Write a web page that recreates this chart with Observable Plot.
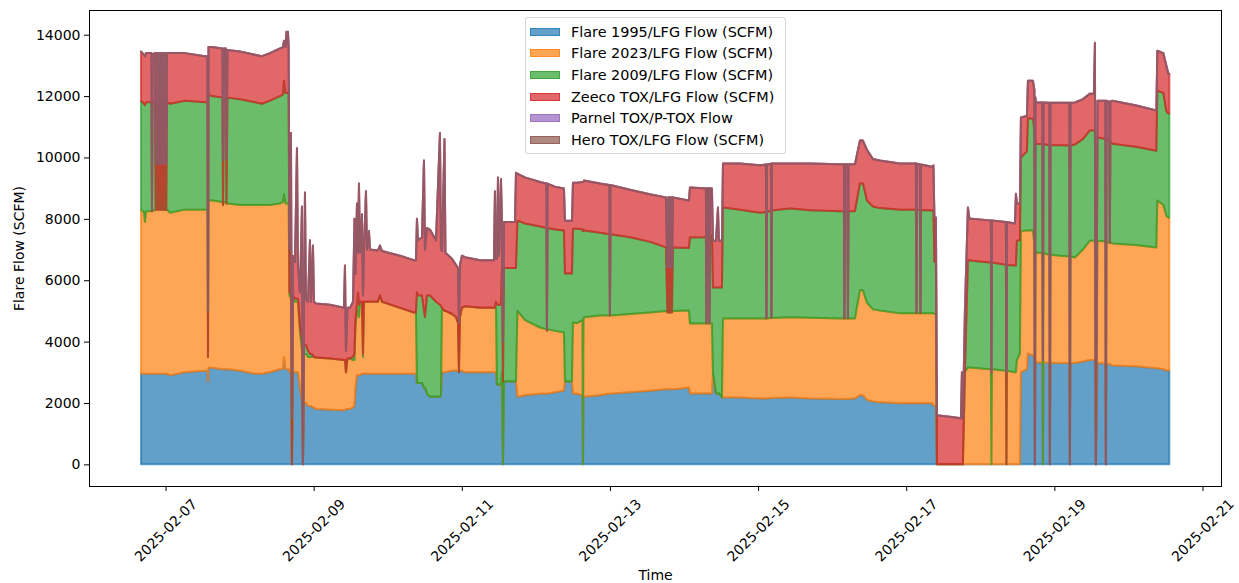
<!DOCTYPE html>
<html>
<head>
<meta charset="utf-8">
<script src="https://cdn.jsdelivr.net/npm/d3@7"></script>
<script src="https://cdn.jsdelivr.net/npm/@observablehq/plot@0.6"></script>
<style>
  html, body { margin: 0; padding: 0; background: #fff; }
  #wrap { position: relative; width: 1239px; height: 583px; overflow: hidden; font-family: "DejaVu Sans", sans-serif; }
  #legend { position: absolute; left: 525px; top: 17px; width: 261px; height: 137px; box-sizing: border-box;
            border: 1px solid rgba(204,204,204,0.8); border-radius: 3px; background: rgba(255,255,255,0.8); }
  .lg-patch { position: absolute; left: 4px; width: 30px; height: 8px; box-sizing: border-box; }
  .lg-text { position: absolute; left: 45px; font-size: 14.4px; line-height: 16px; color: #000; white-space: nowrap; }
</style>
</head>
<body>
<div id="wrap"><div id="legend"></div></div>
<script>
// ---- data (hours since 2025-02-06 00:00 UTC) ----
const seriesNames = [
  "Flare 1995/LFG Flow (SCFM)",
  "Flare 2023/LFG Flow (SCFM)",
  "Flare 2009/LFG Flow (SCFM)",
  "Zeeco TOX/LFG Flow (SCFM)",
  "Parnel TOX/P-TOX Flow",
  "Hero TOX/LFG Flow (SCFM)"
];
const seriesColors = ["#1f77b4", "#ff7f0e", "#2ca02c", "#d62728", "#9467bd", "#8c564b"];

const hours = [
  16.05, 17.02, 17.34, 17.67, 19.45, 19.61, 19.77, 20.58, 20.83, 21.07,
  21.31, 21.56, 21.80, 22.04, 22.28, 22.53, 22.77, 23.01, 23.26, 23.50,
  23.74, 23.99, 24.23, 24.47, 25.44, 30.30, 36.78, 37.59, 37.76, 37.92,
  39.05, 42.45, 42.62, 42.94, 43.59, 43.75, 44.07, 48.12, 52.98, 55.25,
  57.84, 61.08, 62.05, 62.38, 62.87, 63.19, 63.51, 63.67, 63.90, 64.16,
  64.64, 64.97, 65.29, 65.94, 66.59, 66.91, 67.56, 68.21, 68.53, 68.86,
  69.18, 69.50, 70.15, 70.80, 71.12, 71.77, 72.10, 72.74, 77.28, 81.82,
  82.14, 82.46, 82.95, 83.76, 84.74, 85.22, 85.55, 86.03, 86.36, 86.68,
  87.00, 87.65, 87.98, 88.30, 88.95, 89.27, 89.92, 90.24, 92.83, 93.48,
  94.13, 99.96, 104.50, 105.14, 105.47, 105.79, 107.09, 107.74, 108.06, 108.71,
  109.68, 111.63, 112.92, 113.25, 113.57, 114.38, 114.70, 116.81, 118.11, 118.76,
  119.08, 119.40, 120.05, 121.02, 125.88, 130.42, 130.74, 131.07, 131.39, 131.72,
  132.04, 132.69, 133.01, 133.34, 133.66, 137.22, 137.55, 138.03, 140.46, 145.32,
  147.43, 147.59, 147.75, 150.18, 153.10, 153.42, 155.69, 156.02, 157.31, 159.10,
  159.26, 159.42, 159.58, 164.77, 167.84, 168.00, 168.16, 174.48, 180.96, 186.14,
  186.63, 186.87, 187.12, 187.36, 187.60, 187.85, 188.09, 188.41, 193.60, 193.92,
  198.46, 199.10, 199.27, 199.43, 200.08, 200.24, 200.40, 201.05, 201.38, 202.35,
  203.00, 203.32, 204.29, 204.62, 210.13, 216.61, 218.55, 218.71, 218.88, 220.17,
  220.33, 220.50, 226.30, 232.78, 242.50, 243.82, 243.98, 244.14, 244.95, 245.12,
  245.28, 247.38, 249.00, 249.98, 251.27, 253.22, 255.49, 261.97, 267.15, 267.31,
  267.48, 268.44, 268.61, 268.77, 272.33, 272.82, 273.14, 273.63, 273.95, 278.16,
  281.72, 282.05, 282.37, 283.02, 283.99, 284.48, 291.12, 291.44, 291.61, 291.77,
  296.31, 296.47, 296.63, 299.22, 299.55, 299.87, 300.84, 301.17, 303.11, 303.44,
  305.06, 305.54, 305.71, 305.87, 306.03, 308.13, 308.30, 308.46, 310.41, 310.57,
  310.73, 313.81, 316.89, 317.05, 317.21, 318.67, 321.26, 323.53, 324.82, 325.15,
  325.47, 325.96, 328.55, 328.71, 328.87, 329.82, 329.99, 330.15, 330.79, 338.25,
  345.05, 345.37, 347.32, 348.29, 348.94, 349.26
];

const flare1995 = [
  2950,2950,2950,2950,2950,2950,2950,2950,2950,2950,
  2950,2950,2950,2950,2950,2950,2950,2950,2950,2950,
  2950,2950,2950,2950,2900,3000,3050,3050,2700,3150,
  3150,3100,3100,3100,3100,3100,3100,3050,2950,2950,
  3000,3100,3100,3500,3100,3100,3100,3100,3100,3000,
  3000,0,3000,3000,3000,3000,2500,2000,0,2000,
  2000,2000,1900,1900,1900,1850,1850,1800,1780,1760,
  1760,1800,1800,1800,1850,1900,2500,2900,2900,2900,
  2900,2950,2950,2950,2950,2950,2950,2950,2950,2950,
  2950,2950,2950,2950,2650,2650,2650,2500,2500,2300,
  2200,2200,2200,2250,3000,3000,3000,3050,3050,3050,
  3000,3050,3050,3000,3000,3000,3000,3000,2600,2600,
  2600,2600,2400,0,2700,2700,2700,2200,2250,2300,
  2300,2300,2300,2350,2400,2700,2700,2300,2300,2250,
  0,2250,2200,2250,2300,2300,2300,2350,2400,2450,
  2450,2450,2450,2450,2450,2450,2450,2450,2500,2310,
  2310,2310,2310,2310,2310,2310,2310,2310,2960,2310,
  2310,2310,2180,2180,2180,2150,2150,2150,2150,2160,
  2160,2160,2180,2150,2130,2130,2130,2130,2130,2130,
  2130,2150,2250,2250,2100,2050,2020,1990,1990,1990,
  1990,1990,1990,1990,1990,1920,1900,1900,0,0,
  0,0,0,0,0,0,0,0,0,0,
  0,0,0,0,0,0,0,3000,3100,3610,
  3550,3450,0,3400,3320,3320,0,3320,3310,0,
  3310,3300,3300,0,3300,3300,3350,3400,3400,3400,
  0,3300,3280,0,3280,3260,3260,3260,3220,3200,
  3130,3130,3100,3060,3060,3060
];

const flare2023 = [
  5350,5250,4950,5300,5300,5300,5300,5350,5350,5350,
  5350,5350,5350,5350,5350,5350,5350,5350,5350,5350,
  5350,5350,5350,5350,5300,5300,5250,5250,800,5450,
  5450,5450,5350,5450,5450,5400,5400,5400,5500,5500,
  5450,5400,5450,5300,5400,5400,5400,5400,5400,2500,
  2400,0,2400,2300,2300,2300,1800,1700,0,1600,
  1600,1600,1600,1600,1600,1650,1650,1680,1670,1640,
  1640,1200,1650,1650,1550,1500,2000,2100,2100,1900,
  2300,2350,550,2350,2350,2350,2350,2350,2350,2550,
  2350,2150,2000,2000,0,0,0,0,0,0,
  0,0,0,0,2100,2000,2000,1850,1750,1550,
  0,1750,2050,2150,2100,2100,2100,2100,0,0,
  0,0,600,0,0,0,0,2800,2450,2160,
  2100,2050,2100,2000,1900,0,0,2320,2300,2450,
  0,2450,2590,2600,2550,2550,2550,2550,2550,2550,
  2500,2550,2500,2550,2500,2550,2500,2550,2510,2280,
  2280,2280,2280,2280,2280,2280,2280,2280,0,0,
  0,0,0,2570,2580,2600,2600,2600,2600,2610,
  2610,2610,2610,2630,2620,2620,2620,2620,2620,2620,
  2620,2600,3420,3420,3170,3000,2990,2930,2930,2930,
  2930,2930,2930,2930,2930,3000,3000,3000,0,0,
  0,0,0,3000,3160,3160,3100,3100,0,3100,
  3050,0,3050,3000,3000,3400,3600,4600,4520,4010,
  4070,3700,0,3550,3580,3560,0,3560,3520,0,
  3520,3500,3470,0,3470,3440,3650,3890,3890,3890,
  0,3990,3980,0,3980,3960,3960,3960,3980,3950,
  3940,5470,5350,5040,4980,4980
];

const flare2009 = [
  3550,3550,3800,3550,3550,0,3550,3500,0,3500,
  0,3500,0,3500,0,3500,0,3500,0,3500,
  0,3500,0,3500,3550,3550,3500,3500,0,3450,
  3400,3400,0,3400,3400,0,3450,3450,3350,3300,
  3400,3500,3500,3700,3600,3600,3600,3600,3600,100,
  200,0,100,100,100,100,200,300,0,300,
  300,300,200,100,100,50,0,0,0,0,
  0,0,0,0,100,200,200,200,600,400,
  100,0,100,0,0,0,0,0,0,0,
  0,0,0,0,2950,2850,2850,2500,2300,3200,
  3300,3100,3000,2900,0,0,0,0,0,0,
  0,0,0,0,0,0,0,200,2600,2600,
  2600,2600,3400,2700,3700,3700,3700,2940,3150,3290,
  3300,0,3300,3300,3320,3520,3520,3060,3080,2950,
  7600,2950,2830,2700,2650,0,2650,2500,2300,2070,
  0,2070,0,2070,0,2070,0,2070,2040,2800,
  2810,2820,0,2820,2840,0,2840,2870,2800,3450,
  3450,3450,3580,3620,3540,3450,3470,0,3470,3500,
  0,3500,3550,3500,3500,3500,0,3500,3500,0,
  3500,3500,3480,3480,3330,3350,3340,3380,3380,0,
  3380,3370,0,3370,3350,3350,1700,1700,0,0,
  0,0,0,0,3480,3480,3480,3480,3000,3480,
  3450,0,3450,3480,3480,3890,3700,2400,2580,3650,
  3650,3700,0,3600,3550,3550,3400,3550,3570,0,
  3570,3600,3620,0,3620,3680,3600,3590,3590,3590,
  0,3360,3340,0,3340,3300,0,3300,3250,3200,
  3150,3580,3650,3400,3390,3390
];

const zeeco = [
  1600,1600,1600,1600,1600,50,1550,1600,1500,1600,
  1500,1600,1500,1600,1500,1600,1500,1600,1500,1600,
  1500,1600,1500,1600,1650,1550,1500,1500,1500,1550,
  1600,1600,1450,1600,1600,1450,1550,1550,1550,1550,
  1550,1550,1550,1300,1500,2000,1600,2000,1500,1400,
  5200,1500,1300,1200,4900,1100,1100,4400,0,1600,
  4960,1500,1600,3700,1700,3580,1800,1760,1750,1700,
  3080,700,1650,1650,1800,4400,1500,3300,1300,3950,
  1600,2850,1900,1700,3600,1700,2300,1700,1670,1630,
  1650,1700,1700,1700,2400,1800,1900,4900,2200,2200,
  2150,2000,5600,1900,1850,5600,1900,1800,1700,1800,
  1600,1700,1700,1600,1550,1550,3800,1400,1500,4150,
  1600,4100,1500,1300,1500,1500,3100,1530,1500,1450,
  1450,50,1450,1400,1370,1720,1720,1500,1500,1550,
  1600,1550,1630,1600,1600,50,1600,1550,1550,1630,
  1470,1630,1470,1630,1470,1630,1470,1630,1550,1630,
  1600,1590,60,1590,1570,60,1570,1530,1530,1530,
  2610,1530,1530,1430,1500,1550,1550,50,1550,1530,
  50,1530,1460,1520,1530,1530,50,1530,1530,50,
  1530,1530,1400,1400,1650,1550,1550,1500,1500,60,
  1500,1480,60,1480,1430,1470,1440,1440,1600,1550,
  1500,3000,1500,2000,1730,1370,1370,1370,0,1370,
  1400,3000,1400,1370,2340,1210,1200,1300,1150,1230,
  1230,1350,0,1400,1340,1360,0,1360,1380,0,
  1380,1380,1390,0,1390,1370,1300,1200,1200,2860,
  0,1200,1250,0,1250,1300,80,1300,1400,1350,
  1310,1300,1300,1500,1300,1300
];

// Parnel and Hero read as zero flow throughout (only their edge lines show on top of the stack)
const parnel = hours.map(() => 0);
const hero = hours.map(() => 0);

const yTicks = [0, 2000, 4000, 6000, 8000, 10000, 12000, 14000];
const xTickLabels = ["2025-02-07", "2025-02-09", "2025-02-11", "2025-02-13", "2025-02-15", "2025-02-17", "2025-02-19", "2025-02-21"];
const yLabel = "Flare Flow (SCFM)";
const xLabel = "Time";

// ---- build tidy table ----
const t0 = Date.UTC(2025, 1, 6);
const seriesValues = [flare1995, flare2023, flare2009, zeeco, parnel, hero];
const rows = [];
seriesNames.forEach((name, i) => {
  hours.forEach((h, j) => rows.push({series: name, time: new Date(t0 + h * 3600e3), value: seriesValues[i][j]}));
});
const xTicks = xTickLabels.map(s => new Date(s + "T00:00:00Z"));
const xDomain = [new Date(t0 - 0.8 * 3600e3), new Date(t0 + 366 * 3600e3)];

const chart = Plot.plot({
  width: 1239,
  height: 583,
  marginLeft: 89,
  marginRight: 18,
  marginTop: 10,
  marginBottom: 97,
  style: {fontFamily: "DejaVu Sans, sans-serif", fontSize: "14px", background: "white", color: "black"},
  x: {type: "utc", domain: xDomain},
  y: {domain: [-705, 14805]},
  color: {domain: seriesNames, range: seriesColors},
  marks: [
    Plot.areaY(rows, {x: "time", y: "value", z: "series", fill: "series", stroke: "series",
      fillOpacity: 0.7, strokeOpacity: 0.7, strokeWidth: 2, strokeLinejoin: "round", curve: "linear"}),
    Plot.frame({stroke: "black", strokeWidth: 1}),
    Plot.axisY(yTicks, {tickSize: 5, tickPadding: 4, tickFormat: "d", label: null}),
    Plot.axisX(xTicks, {tickSize: 5, tickFormat: () => "", label: null}),
    Plot.text(xTicks, {x: d => d, text: (d, i) => xTickLabels[i], frameAnchor: "bottom", dy: 44,
      rotate: -45, textAnchor: "middle", lineAnchor: "middle", fill: "black"}),
    Plot.text([yLabel], {text: d => d, frameAnchor: "left", dx: -70, rotate: -90,
      textAnchor: "middle", lineAnchor: "middle", fill: "black"}),
    Plot.text([xLabel], {text: d => d, frameAnchor: "bottom", dy: 84, textAnchor: "middle",
      lineAnchor: "top", fill: "black"})
  ]
});
document.getElementById("wrap").prepend(chart);

// ---- legend ----
const legend = document.getElementById("legend");
const hex2rgba = (hex, a) => {
  const n = parseInt(hex.slice(1), 16);
  return `rgba(${(n >> 16) & 255},${(n >> 8) & 255},${n & 255},${a})`;
};
seriesNames.forEach((name, i) => {
  const cy = 13.7 + i * 21.67;
  const p = document.createElement("div");
  p.className = "lg-patch";
  p.style.top = (cy - 4) + "px";
  p.style.background = hex2rgba(seriesColors[i], 0.7);
  p.style.border = "1px solid " + hex2rgba(seriesColors[i], 0.7);
  legend.appendChild(p);
  const t = document.createElement("div");
  t.className = "lg-text";
  t.style.top = (cy - 8) + "px";
  t.textContent = name;
  legend.appendChild(t);
});
console.log(hours.length, flare1995.length, flare2023.length, flare2009.length, zeeco.length);
</script>
</body>
</html>
